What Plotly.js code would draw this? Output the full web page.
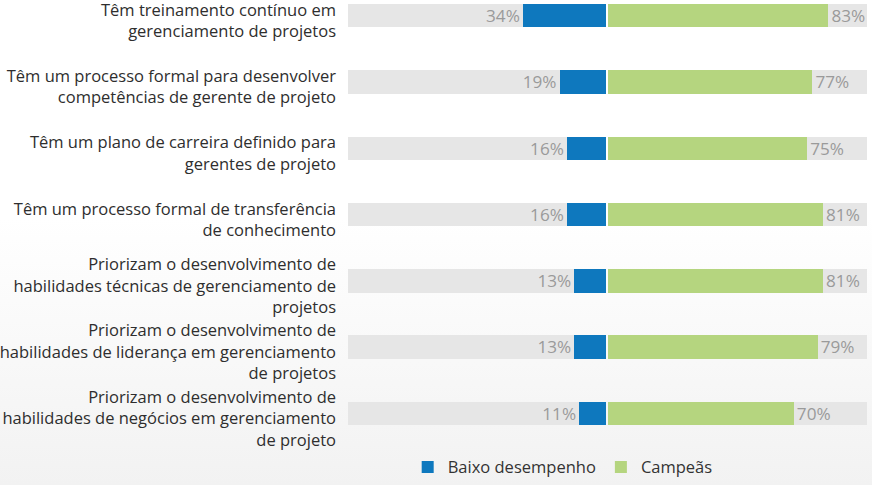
<!DOCTYPE html>
<html>
<head>
<meta charset="utf-8">
<script src="https://cdn.plot.ly/plotly-3.0.1.min.js"></script>
<style>
  html, body { margin: 0; padding: 0; }
  body { width: 872px; height: 485px; background: linear-gradient(to bottom, #ffffff 0%, #ffffff 45%, #f2f2f2 100%); }
  #chart { width: 872px; height: 485px; }
</style>
</head>
<body>
<div id="chart"></div>
<script>
const categories = [
  "Têm treinamento contínuo em<br>gerenciamento de projetos",
  "Têm um processo formal para desenvolver<br>competências de gerente de projeto",
  "Têm um plano de carreira definido para<br>gerentes de projeto",
  "Têm um processo formal de transferência<br>de conhecimento",
  "Priorizam o desenvolvimento de<br>habilidades técnicas de gerenciamento de<br>projetos",
  "Priorizam o desenvolvimento de<br>habilidades de liderança em gerenciamento<br>de projetos",
  "Priorizam o desenvolvimento de<br>habilidades de negócios em gerenciamento<br>de projeto"
];
const baixoDesempenho = [34, 19, 16, 16, 13, 13, 11];
const campeas = [83, 77, 75, 81, 81, 79, 70];
const seriesNames = ["Baixo desempenho", "Campeãs"];

const BLUE = "#0e78be", GREEN = "#b5d57f", GRAY = "#e6e6e6", LABEL = "#9a9a9a";
const FONT = "Open Sans, sans-serif";
const BW = 0.354;
const full = categories.map(() => 1000);

const traces = [
  { type: "bar", orientation: "h", y: categories, x: full, xaxis: "x2", yaxis: "y",
    marker: { color: GRAY }, width: BW, showlegend: false, hoverinfo: "skip" },
  { type: "bar", orientation: "h", y: categories, x: full, xaxis: "x", yaxis: "y",
    marker: { color: GRAY }, width: BW, showlegend: false, hoverinfo: "skip" },
  { type: "bar", orientation: "h", name: seriesNames[0], y: categories, x: baixoDesempenho,
    xaxis: "x2", yaxis: "y", marker: { color: BLUE }, width: BW,
    text: baixoDesempenho.map(v => v + "%"), textposition: "outside",
    textfont: { color: LABEL, size: 19, family: FONT } },
  { type: "bar", orientation: "h", name: seriesNames[1], y: categories, x: campeas,
    xaxis: "x", yaxis: "y", marker: { color: GREEN }, width: BW,
    text: campeas.map(v => v + "%"), textposition: "outside",
    textfont: { color: LABEL, size: 19, family: FONT } }
];

const layout = {
  width: 872, height: 485,
  margin: { l: 348, r: 5, t: 0, b: 35 },
  paper_bgcolor: "rgba(0,0,0,0)", plot_bgcolor: "rgba(0,0,0,0)",
  font: { family: FONT, size: 16, color: "#2e2e2e" },
  barmode: "overlay",
  bargap: 0,
  xaxis: { domain: [0.501, 1], range: [0, 97.55], showgrid: false, zeroline: false,
           showticklabels: false, showline: false, fixedrange: true },
  xaxis2: { domain: [0, 0.4971], range: [105.5, 0], showgrid: false, zeroline: false,
            showticklabels: false, showline: false, fixedrange: true, anchor: "y" },
  yaxis: { type: "category", anchor: "x2", range: [6.401, -0.236], showgrid: false,
           zeroline: false, showline: false, ticks: "", ticklabelstandoff: 11,
           ticklabelshift: -5,
           tickfont: { size: 16.5, color: "#2e2e2e", family: FONT }, fixedrange: true },
  legend: { orientation: "h", x: 0.115, xanchor: "left", y: -0.022, yanchor: "top",
            font: { size: 16.5, color: "#333333", family: FONT }, bgcolor: "rgba(0,0,0,0)",
            traceorder: "normal" },
  showlegend: true
};

Plotly.newPlot("chart", traces, layout, { displayModeBar: false, staticPlot: true });
</script>
</body>
</html>
